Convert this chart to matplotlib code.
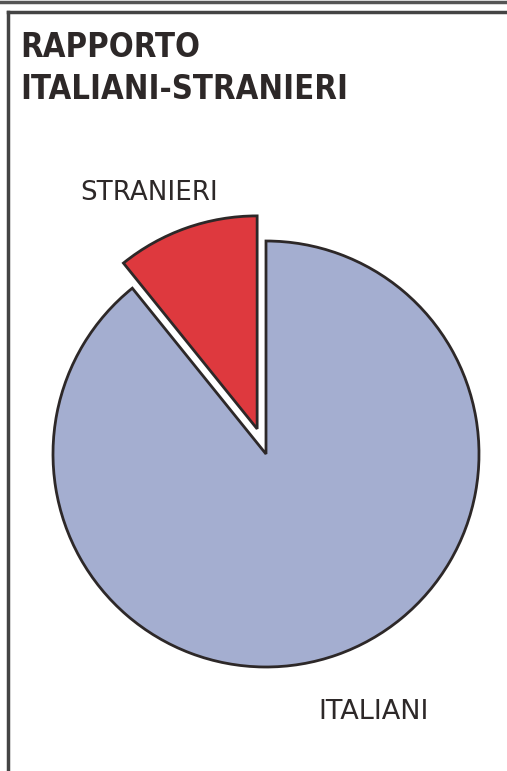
import matplotlib.pyplot as plt
from matplotlib.lines import Line2D

# quote del grafico (valori stimati dall'immagine)
labels = ["ITALIANI", "STRANIERI"]
shares = [89.2, 10.8]
colors = ["#a4aed0", "#de393e"]

title_lines = ["RAPPORTO", "ITALIANI-STRANIERI"]
ink = "#2d2828"

W, H = 507, 771
R = 213
fig = plt.figure(figsize=(W / 100, H / 100), dpi=100)
ax = fig.add_axes([0, 0, 1, 1])

# cornice
fig.add_artist(Line2D([0, 1], [1 - 2 / H, 1 - 2 / H], color="#555555", lw=2.5))
fig.add_artist(Line2D([8 / W, 1], [1 - 12 / H, 1 - 12 / H], color="#444444", lw=2.5))
fig.add_artist(Line2D([8 / W, 8 / W], [0, 1 - 12 / H], color="#444444", lw=2.5))

# titolo
ax.text(20, H - 57, title_lines[0], fontsize=23.5, fontweight="bold",
        fontstretch="condensed", color=ink, ha="left", va="baseline")
ax.text(20, H - 99, title_lines[1], fontsize=23.5, fontweight="bold",
        fontstretch="condensed", color=ink, ha="left", va="baseline")

# explode in pie() e' in unita' dati, non relativo al raggio
wedges, _ = ax.pie(shares, colors=colors, explode=[0, 0.125 * R],
                   startangle=90, counterclock=False,
                   center=(266, H - 454), radius=R, frame=True,
                   wedgeprops=dict(edgecolor=ink, linewidth=2))
ax.set_xlim(0, W)
ax.set_ylim(0, H)
ax.set_aspect("equal")
ax.axis("off")

# etichette
ax.text(80, H - 200, labels[1], fontsize=18.8, color=ink, ha="left",
        va="baseline")
ax.text(318, H - 719, labels[0], fontsize=19.5, color=ink, ha="left",
        va="baseline")

fig.savefig("out.png", dpi=100, facecolor="white")
